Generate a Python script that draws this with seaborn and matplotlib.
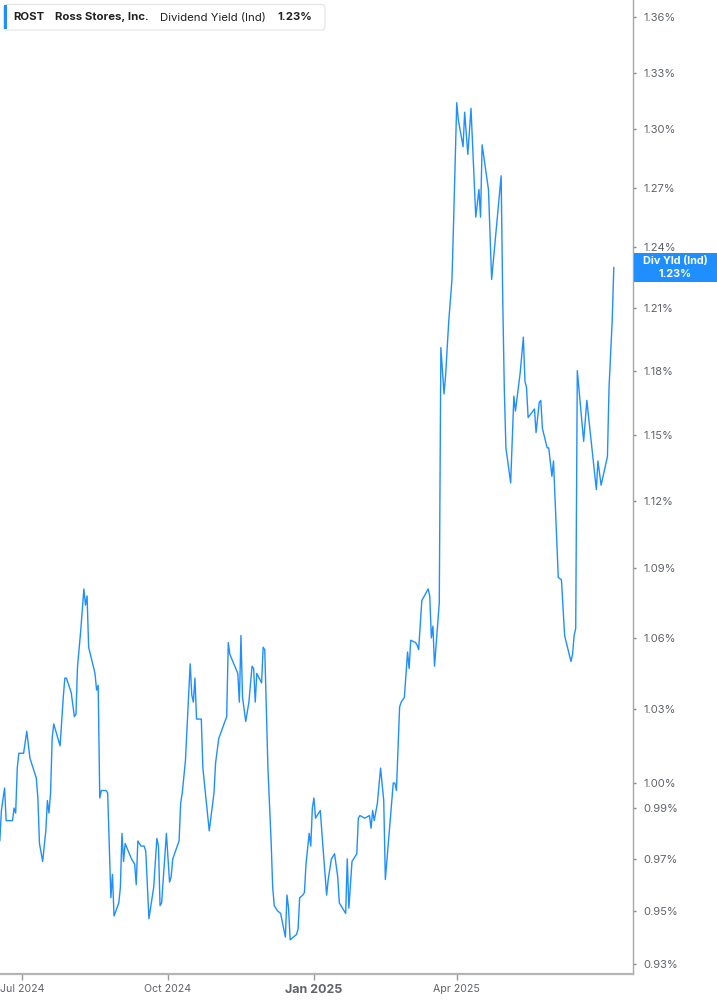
import matplotlib
matplotlib.use("Agg")
import numpy as np
import pandas as pd
import matplotlib.pyplot as plt
import matplotlib.ticker as mticker
import matplotlib.transforms as mtransforms
from matplotlib.patches import FancyBboxPatch, Rectangle
import seaborn as sns

# ---------------- data ----------------
dates = [
    "2024-06-17", "2024-06-18", "2024-06-20", "2024-06-21", "2024-06-25", "2024-06-26",
    "2024-06-27", "2024-06-28", "2024-06-29", "2024-07-02", "2024-07-04", "2024-07-06",
    "2024-07-10", "2024-07-11", "2024-07-12", "2024-07-14", "2024-07-16", "2024-07-17",
    "2024-07-18", "2024-07-19", "2024-07-20", "2024-07-21", "2024-07-25", "2024-07-27",
    "2024-07-28", "2024-07-29", "2024-08-01", "2024-08-03", "2024-08-04", "2024-08-05",
    "2024-08-07", "2024-08-09", "2024-08-10", "2024-08-11", "2024-08-12", "2024-08-16",
    "2024-08-17", "2024-08-18", "2024-08-19", "2024-08-20", "2024-08-23", "2024-08-24",
    "2024-08-26", "2024-08-27", "2024-08-28", "2024-08-31", "2024-09-01", "2024-09-02",
    "2024-09-03", "2024-09-04", "2024-09-08", "2024-09-10", "2024-09-11", "2024-09-12",
    "2024-09-14", "2024-09-16", "2024-09-17", "2024-09-19", "2024-09-22", "2024-09-24",
    "2024-09-25", "2024-09-26", "2024-09-27", "2024-09-30", "2024-10-02", "2024-10-03",
    "2024-10-04", "2024-10-08", "2024-10-09", "2024-10-10", "2024-10-12", "2024-10-15",
    "2024-10-16", "2024-10-17", "2024-10-18", "2024-10-19", "2024-10-22", "2024-10-23",
    "2024-10-27", "2024-10-30", "2024-10-31", "2024-11-02", "2024-11-07", "2024-11-08",
    "2024-11-09", "2024-11-14", "2024-11-15", "2024-11-16", "2024-11-17", "2024-11-19",
    "2024-11-21", "2024-11-23", "2024-11-24", "2024-11-25", "2024-11-26", "2024-11-29",
    "2024-11-30", "2024-12-01", "2024-12-03", "2024-12-05", "2024-12-06", "2024-12-07",
    "2024-12-09", "2024-12-11", "2024-12-13", "2024-12-14", "2024-12-15", "2024-12-16",
    "2024-12-17", "2024-12-19", "2024-12-21", "2024-12-22", "2024-12-23", "2024-12-25",
    "2024-12-26", "2024-12-27", "2024-12-29", "2024-12-30", "2024-12-31", "2025-01-01",
    "2025-01-02", "2025-01-05", "2025-01-07", "2025-01-09", "2025-01-10", "2025-01-12",
    "2025-01-14", "2025-01-16", "2025-01-17", "2025-01-21", "2025-01-22", "2025-01-23",
    "2025-01-25", "2025-01-28", "2025-01-29", "2025-01-30", "2025-02-02", "2025-02-05",
    "2025-02-06", "2025-02-07", "2025-02-08", "2025-02-10", "2025-02-12", "2025-02-14",
    "2025-02-15", "2025-02-17", "2025-02-20", "2025-02-21", "2025-02-22", "2025-02-24",
    "2025-02-25", "2025-02-27", "2025-03-01", "2025-03-02", "2025-03-03", "2025-03-06",
    "2025-03-07", "2025-03-08", "2025-03-10", "2025-03-14", "2025-03-15", "2025-03-16",
    "2025-03-17", "2025-03-18", "2025-03-21", "2025-03-22", "2025-03-24", "2025-03-25",
    "2025-03-27", "2025-03-29", "2025-03-30", "2025-04-01", "2025-04-02", "2025-04-05",
    "2025-04-06", "2025-04-08", "2025-04-10", "2025-04-13", "2025-04-15", "2025-04-16",
    "2025-04-17", "2025-04-21", "2025-04-23", "2025-04-29", "2025-04-30", "2025-05-01",
    "2025-05-02", "2025-05-05", "2025-05-07", "2025-05-08", "2025-05-11", "2025-05-13",
    "2025-05-14", "2025-05-15", "2025-05-16", "2025-05-20", "2025-05-21", "2025-05-23",
    "2025-05-24", "2025-05-25", "2025-05-28", "2025-05-29", "2025-05-31", "2025-06-01",
    "2025-06-04", "2025-06-06", "2025-06-08", "2025-06-12", "2025-06-13", "2025-06-14",
    "2025-06-15", "2025-06-16", "2025-06-20", "2025-06-22", "2025-06-28", "2025-06-29",
    "2025-07-01", "2025-07-05", "2025-07-06", "2025-07-08", "2025-07-09",
]

yield_pct = [
    0.977, 0.989, 0.998, 0.985, 0.985, 0.990,
    0.988, 1.006, 1.012, 1.012, 1.021, 1.010,
    1.002, 0.994, 0.976, 0.969, 0.981, 0.993,
    0.988, 0.996, 1.018, 1.024, 1.015, 1.035,
    1.043, 1.043, 1.037, 1.027, 1.028, 1.048,
    1.063, 1.081, 1.074, 1.078, 1.056, 1.045,
    1.038, 1.040, 0.994, 0.997, 0.997, 0.996,
    0.955, 0.964, 0.948, 0.953, 0.959, 0.980,
    0.969, 0.976, 0.970, 0.968, 0.960, 0.977,
    0.975, 0.975, 0.973, 0.947, 0.959, 0.978,
    0.975, 0.952, 0.953, 0.980, 0.961, 0.963,
    0.970, 0.977, 0.992, 0.996, 1.009, 1.049,
    1.036, 1.033, 1.043, 1.026, 1.026, 1.006,
    0.981, 0.996, 1.008, 1.018, 1.027, 1.058,
    1.053, 1.045, 1.033, 1.061, 1.035, 1.025,
    1.033, 1.048, 1.047, 1.033, 1.045, 1.041,
    1.056, 1.055, 1.006, 0.977, 0.959, 0.952,
    0.950, 0.949, 0.943, 0.940, 0.956, 0.951,
    0.939, 0.940, 0.941, 0.943, 0.955, 0.956,
    0.957, 0.968, 0.980, 0.975, 0.990, 0.994,
    0.986, 0.989, 0.972, 0.956, 0.962, 0.970,
    0.972, 0.963, 0.953, 0.949, 0.970, 0.951,
    0.969, 0.972, 0.986, 0.987, 0.986, 0.987,
    0.982, 0.989, 0.985, 0.992, 1.006, 0.993,
    0.962, 0.977, 1.000, 1.000, 0.997, 1.031,
    1.033, 1.035, 1.054, 1.047, 1.059, 1.058,
    1.057, 1.055, 1.076, 1.081, 1.078, 1.060,
    1.065, 1.048, 1.075, 1.191, 1.169, 1.178,
    1.204, 1.224, 1.252, 1.314, 1.305, 1.291,
    1.309, 1.287, 1.311, 1.255, 1.269, 1.255,
    1.292, 1.269, 1.224, 1.276, 1.214, 1.171,
    1.144, 1.128, 1.168, 1.161, 1.179, 1.196,
    1.175, 1.172, 1.158, 1.162, 1.151, 1.165,
    1.166, 1.153, 1.144, 1.144, 1.131, 1.138,
    1.086, 1.085, 1.061, 1.050, 1.053, 1.061,
    1.064, 1.180, 1.147, 1.166, 1.125, 1.138,
    1.127, 1.140, 1.172, 1.204, 1.230,
]

ytick_values = [0.93, 0.95, 0.97, 0.99, 1.00, 1.03, 1.06, 1.09, 1.12,
                1.15, 1.18, 1.21, 1.24, 1.27, 1.30, 1.33, 1.36]
xtick_dates = ["2024-07-01", "2024-10-01", "2025-01-01", "2025-04-01"]
xtick_labels = ["Jul 2024", "Oct 2024", "Jan 2025", "Apr 2025"]

ticker = "ROST"
company = "Ross Stores, Inc."
metric = "Dividend Yield (Ind)"
last_value_text = "1.23%"
badge_title = "Div Yld (Ind)"

# ---------------- style ----------------
LINE = "#1f8fff"
TICKC = "#5f6368"
SPINE = "#a8a8a8"

sns.set_theme(style="white")
plt.rcParams["font.family"] = ["Inter", "DejaVu Sans"]

W, H = 717, 1005
fig = plt.figure(figsize=(W / 100, H / 100), dpi=100)
fig.patch.set_facecolor("white")

ax_right = 632.7
ax_bottom = 974
ax = fig.add_axes([0, 1 - ax_bottom / H, ax_right / W, ax_bottom / H])
ax.set_facecolor("white")

df = pd.DataFrame({"date": pd.to_datetime(dates), "yield": yield_pct})
sns.lineplot(data=df, x="date", y="yield", ax=ax, color=LINE, linewidth=1.0)

ax.set_yscale("log")
ax.set_ylim(0.9262, 1.3693)
ax.set_xlim(pd.Timestamp("2024-06-17 03:00"), pd.Timestamp("2025-07-20 22:00"))

ax.yaxis.tick_right()
ax.yaxis.set_label_position("right")
ax.yaxis.set_major_locator(mticker.FixedLocator(ytick_values))
ax.yaxis.set_minor_locator(mticker.NullLocator())
ax.yaxis.set_major_formatter(mticker.FuncFormatter(lambda v, p: f"{v:.2f}%"))

ax.set_xticks(pd.to_datetime(xtick_dates))
ax.set_xticklabels(xtick_labels)
ax.xaxis.set_minor_locator(mticker.NullLocator())

ax.set_xlabel("")
ax.set_ylabel("")

for s in ["left", "top"]:
    ax.spines[s].set_visible(False)
ax.spines["right"].set_color(SPINE)
ax.spines["right"].set_linewidth(1.0)
ax.spines["bottom"].set_color("#b4b4b4")
ax.spines["bottom"].set_linewidth(1.6)

ax.tick_params(axis="y", which="major", direction="out", length=2.5, width=1,
               color="#8a8a8a", labelsize=8, labelcolor=TICKC, pad=5, right=True, left=False)
ax.tick_params(axis="x", which="major", direction="out", length=4, width=1,
               color="#9a9a9a", labelsize=7.6, labelcolor=TICKC, pad=3, bottom=True)
for lab in ax.get_xticklabels():
    if lab.get_text().startswith("Jan"):
        lab.set_fontweight("bold")
        lab.set_fontsize(9)

ax.grid(False)

# ---------------- last value badge ----------------
fig.canvas.draw()
last_v = df["yield"].iloc[-1]
y_disp = ax.transData.transform((0, last_v))[1]
y_fig_px = H - y_disp
bx0, bx1 = 633.5, W
bh = 29
badge = Rectangle((bx0 / W, 1 - (y_fig_px + bh / 2) / H), (bx1 - bx0) / W, bh / H,
                  transform=fig.transFigure, facecolor=LINE, edgecolor="none", zorder=5)
fig.patches.append(badge)
cx = (bx0 + bx1) / 2 / W
fig.text(cx, 1 - (y_fig_px - 6.5) / H, badge_title, ha="center", va="center",
         color="white", fontsize=7.8, fontweight="bold", zorder=6)
fig.text(cx, 1 - (y_fig_px + 7) / H, last_value_text, ha="center", va="center",
         color="white", fontsize=7.8, fontweight="bold", zorder=6)

# ---------------- header legend ----------------
def fx(x):
    return x / W

def fy(y):
    return 1 - y / H

box = FancyBboxPatch((fx(3.5), fy(30)), fx(325) - fx(3.5), fy(4.5) - fy(30),
                     boxstyle="round,pad=0,rounding_size=0.004",
                     transform=fig.transFigure, facecolor="white",
                     edgecolor="#e3e3e3", linewidth=0.8, zorder=5)
fig.patches.append(box)
bar = Rectangle((fx(3.5), fy(29.5)), fx(6.5) - fx(3.5), fy(5) - fy(29.5),
                transform=fig.transFigure, facecolor=LINE, edgecolor="none", zorder=6)
fig.patches.append(bar)

ty = fy(17.5)
fig.text(fx(13), ty, ticker, ha="left", va="center", fontsize=8.2,
         fontweight="bold", color="#202124", zorder=7)
fig.text(fx(55), ty, company, ha="left", va="center", fontsize=8.2,
         fontweight="bold", color="#202124", zorder=7)
fig.text(fx(160), ty, metric, ha="left", va="center", fontsize=8.2,
         color="#202124", zorder=7)
fig.text(fx(277), ty, last_value_text, ha="left", va="center", fontsize=8.2,
         fontweight="bold", color="#202124", zorder=7)

fig.savefig("out.png", dpi=100, facecolor="white")
